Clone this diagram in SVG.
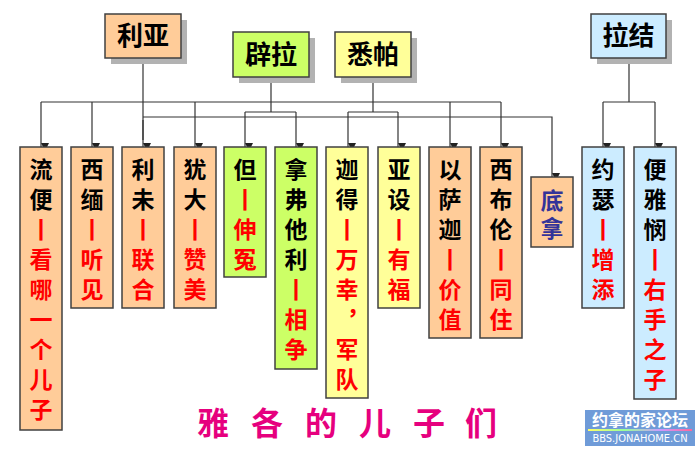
<svg xmlns="http://www.w3.org/2000/svg" width="700" height="450" viewBox="0 0 700 450">
<style>
text{font-family:"Noto Sans CJK SC","Noto Sans",sans-serif;font-weight:700}
.top{font-size:26px;text-anchor:middle;fill:#000}
.v{font-size:23px;writing-mode:vertical-rl;text-orientation:upright;letter-spacing:7px}
.k{fill:#000}
.r{fill:#FF0000}
.p{fill:#333399}
.box{stroke:#404040;stroke-width:1.5}
.sh{fill:#B2B2B2}
.o{fill:#FFCC99}
.g{fill:#CCFF66}
.y{fill:#FFFF99}
.bl{fill:#CCECFF}
.ln{fill:none;stroke:#333;stroke-width:1.2}
.ar{fill:none;stroke:#333;stroke-width:1.2;marker-end:url(#ah)}
</style>
<defs>
<marker id="ah" viewBox="0 0 8 8" refX="4" refY="8" markerWidth="8" markerHeight="8" markerUnits="userSpaceOnUse" orient="auto-start-reverse">
<path d="M0,0 L8,0 L4,8 Z" fill="#222" transform="rotate(-90 4 4)"/>
</marker>
<linearGradient id="rb" x1="0" x2="1" y1="0" y2="0">
<stop offset="0" stop-color="#ffff66"/><stop offset="0.35" stop-color="#99ff99"/><stop offset="0.7" stop-color="#cc99ff"/><stop offset="1" stop-color="#ff6699"/>
</linearGradient>
</defs>

<g id="connectors">
<path class="ln" d="M143,58 V140"/>
<path class="ln" d="M41,102 H501"/>
<path class="ar" d="M143,120 V147"/>
<path class="ar" d="M41,102 V147"/>
<path class="ar" d="M92,102 V147"/>
<path class="ar" d="M195,102 V147"/>
<path class="ar" d="M450,102 V147"/>
<path class="ar" d="M501,102 V147"/>
<path class="ar" d="M143,117 H552 V177"/>
<path class="ln" d="M271,77 V112 M245,112 H296"/>
<path class="ar" d="M245,112 V147"/>
<path class="ar" d="M296,112 V147"/>
<path class="ln" d="M373,77 V112 M348,112 H398"/>
<path class="ar" d="M348,112 V147"/>
<path class="ar" d="M398,112 V147"/>
<path class="ln" d="M629,58 V102 M603,102 H655"/>
<path class="ar" d="M603,102 V147"/>
<path class="ar" d="M655,102 V147"/>
</g>

<g id="liya">
<rect class="sh" x="111" y="20" width="76" height="44"/>
<rect class="box o" x="105" y="14" width="76" height="44"/>
<text class="top" x="143" y="45">利亚</text>
</g>
<g id="pila">
<rect class="sh" x="239" y="38" width="76" height="45"/>
<rect class="box g" x="233" y="32" width="76" height="45"/>
<text class="top" x="271" y="64">辟拉</text>
</g>
<g id="xipa">
<rect class="sh" x="341" y="38" width="76" height="45"/>
<rect class="box y" x="335" y="32" width="76" height="45"/>
<text class="top" x="373" y="64">悉帕</text>
</g>
<g id="lajie">
<rect class="sh" x="597" y="20" width="75" height="44"/>
<rect class="box bl" x="591" y="14" width="75" height="44"/>
<text class="top" x="628.5" y="45">拉结</text>
</g>

<g id="liubian">
<rect class="box o" x="20" y="147" width="42" height="283"/>
<text class="v k" x="41" y="157.5">流便</text>
<text class="v r" x="41" y="217.5">丨看哪一个儿子</text>
</g>
<g id="ximian">
<rect class="box o" x="71" y="147" width="42" height="161"/>
<text class="v k" x="92" y="157.5">西缅</text>
<text class="v r" x="92" y="217.5">丨听见</text>
</g>
<g id="liwei">
<rect class="box o" x="122" y="147" width="42" height="161"/>
<text class="v k" x="143" y="157.5">利未</text>
<text class="v r" x="143" y="217.5">丨联合</text>
</g>
<g id="youda">
<rect class="box o" x="174" y="147" width="42" height="161"/>
<text class="v k" x="195" y="157.5">犹大</text>
<text class="v r" x="195" y="217.5">丨赞美</text>
</g>
<g id="dan">
<rect class="box g" x="224" y="147" width="42" height="130"/>
<text class="v k" x="245" y="157.5">但</text>
<text class="v r" x="245" y="187.5">丨伸冤</text>
</g>
<g id="nafutali">
<rect class="box g" x="275" y="147" width="42" height="222"/>
<text class="v k" x="296" y="157.5">拿弗他利</text>
<text class="v r" x="296" y="277.5">丨相争</text>
</g>
<g id="jiade">
<rect class="box y" x="326" y="147" width="42" height="251"/>
<text class="v k" x="347" y="157.5">迦得</text>
<text class="v r" x="347" y="217.5">丨万幸，军队</text>
</g>
<g id="yashe">
<rect class="box y" x="378" y="147" width="42" height="161"/>
<text class="v k" x="399" y="157.5">亚设</text>
<text class="v r" x="399" y="217.5">丨有福</text>
</g>
<g id="yisajia">
<rect class="box o" x="429" y="147" width="42" height="191"/>
<text class="v k" x="450" y="157.5">以萨迦</text>
<text class="v r" x="450" y="247.5">丨价值</text>
</g>
<g id="xibulun">
<rect class="box o" x="480" y="147" width="42" height="191"/>
<text class="v k" x="501" y="157.5">西布伦</text>
<text class="v r" x="501" y="247.5">丨同住</text>
</g>
<g id="dina">
<rect class="box o" x="531" y="177" width="42" height="70"/>
<text class="v p" x="552" y="188.5" style="letter-spacing:5px">底拿</text>
</g>
<g id="yuese">
<rect class="box bl" x="582" y="147" width="42" height="161"/>
<text class="v k" x="603" y="157.5">约瑟</text>
<text class="v r" x="603" y="217.5">丨增添</text>
</g>
<g id="bianyamin">
<rect class="box bl" x="634" y="147" width="42" height="252"/>
<text class="v k" x="655" y="157.5">便雅悯</text>
<text class="v r" x="655" y="247.5">丨右手之子</text>
</g>

<text id="title" x="197 229 251 283 305 337 359 391 413 445 465" y="435" style="font-size:32px;fill:#E6007E">雅 各 的 儿 子 们</text>

<g id="watermark">
<rect x="585" y="410" width="110" height="36" fill="#6F9BD8"/>
<text x="640" y="426" text-anchor="middle" style="font-size:16px;fill:#fff">约拿的家论坛</text>
<rect x="588" y="429" width="104" height="2" fill="url(#rb)"/>
<text x="640" y="442" text-anchor="middle" style="font-family:'DejaVu Sans Condensed','Liberation Sans',sans-serif;font-weight:400;font-size:11px;fill:#fff">BBS.JONAHOME.CN</text>
</g>
</svg>
